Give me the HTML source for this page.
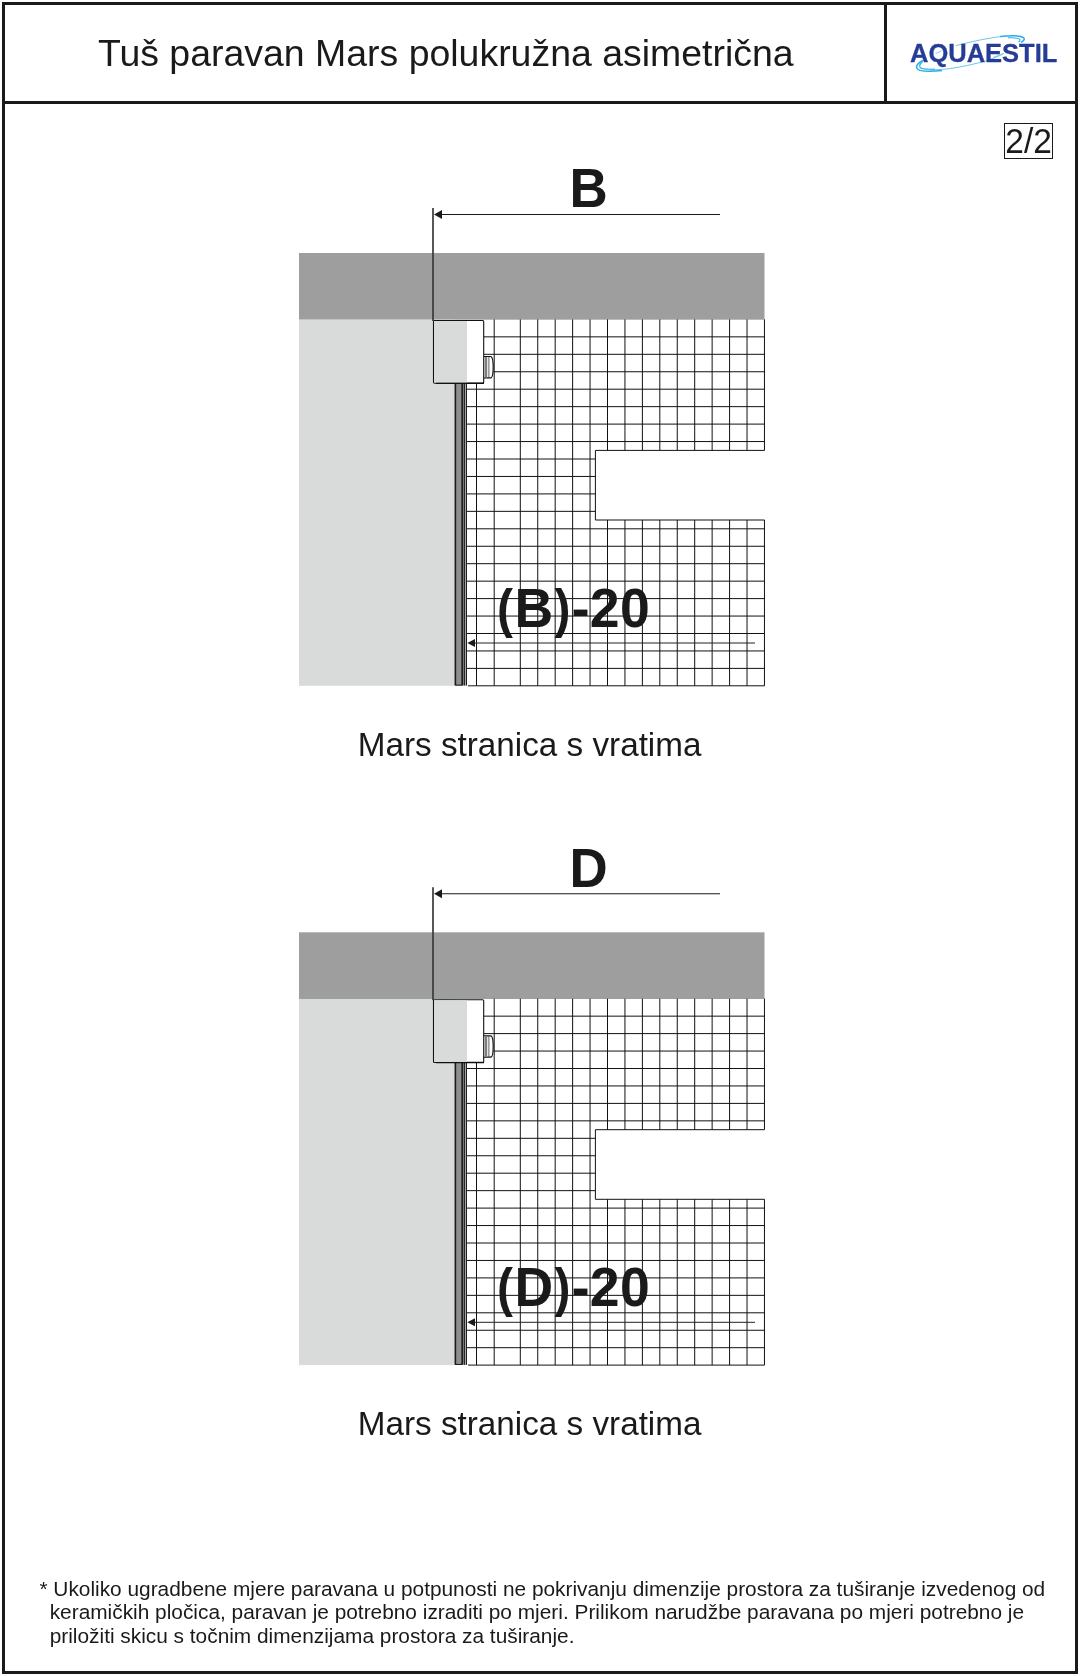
<!DOCTYPE html>
<html><head><meta charset="utf-8"><style>
html,body{margin:0;padding:0;background:#fff;}
svg{display:block;will-change:transform;font-family:"Liberation Sans",sans-serif;}
</style></head><body>
<svg width="1080" height="1676" viewBox="0 0 1080 1676">
<rect x="0" y="0" width="1080" height="1676" fill="#fff"/>
<rect x="3.5" y="3.5" width="1073" height="1669" fill="none" stroke="#1a1a1a" stroke-width="3"/>
<line x1="2" y1="102.5" x2="1078" y2="102.5" stroke="#1a1a1a" stroke-width="3"/>
<line x1="885.5" y1="2" x2="885.5" y2="104" stroke="#1a1a1a" stroke-width="3"/>
<text x="97.95" y="65.7" font-size="37.45" fill="#1a1a1a">Tuš paravan Mars polukružna asimetrična</text>
<g fill="none">
<path d="M930 69.8 C945 70 960 67.5 980 62.5 C990 60 998 56.5 1004 53.5" stroke="#5cc0ea" stroke-width="0.9"/>
<path d="M923.5 60.3 C916.5 63.5 913.8 68.2 920 70.4 C925 71.8 932 71.6 942 70.6" stroke="#26aee6" stroke-width="1.5"/>
<path d="M922.5 62 C918.8 64.6 918.6 67.6 922.5 68.6 C926 69.4 930 69.4 935 69" stroke="#26aee6" stroke-width="1.1"/>
<path d="M956 45.6 C972 41.5 990 37.5 1004 36.2" stroke="#5cc0ea" stroke-width="0.9"/>
<path d="M1000 36.6 C1010 35.6 1020 35.4 1023.5 37.6 C1025.2 39 1023.5 41.5 1021 42.3" stroke="#26aee6" stroke-width="1.5"/>
<path d="M1008 37.8 C1014 37.6 1019 38 1019.8 39.6 C1020.2 40.5 1019.5 41.5 1018.5 42" stroke="#26aee6" stroke-width="1.1"/>
<path d="M935.5 53.5 L941.5 51" stroke="#7fd0ee" stroke-width="1"/>
<path d="M993 57.5 L1003 53.5" stroke="#7fd0ee" stroke-width="1"/>
<text x="0" y="0" font-weight="bold" font-size="25.5" fill="#263d95" stroke="#263d95" stroke-width="0.3" stroke-linejoin="round" transform="translate(910.0 61.5)">AQUAESTIL</text>
</g>
<rect x="1004.5" y="123.5" width="48" height="35" fill="none" stroke="#1a1a1a" stroke-width="1"/>
<text x="0" y="0" font-size="33.5" fill="#1a1a1a" transform="translate(1005.3 152.6) scale(1 1.025)">2/2</text>
<g transform="translate(0,0)">
<text x="0" y="0" font-weight="bold" font-size="54" fill="#1a1a1a" transform="translate(569.5 206.7) scale(0.98 1.017)">B</text>
<rect x="299" y="253" width="465.5" height="66.7" fill="#9e9e9e"/>
<rect x="299" y="319.7" width="155.5" height="366.1" fill="#d9dbda"/>
<line x1="433" y1="208" x2="433" y2="321" stroke="#3a3a3a" stroke-width="1.7"/>
<line x1="440" y1="214.5" x2="720" y2="214.5" stroke="#1a1a1a" stroke-width="1.1"/>
<polygon points="434,214.5 442,210 442,219" fill="#1a1a1a"/>
<path d="M520.30 319.40L520.30 685.80 M537.74 319.40L537.74 685.80 M555.18 319.40L555.18 685.80 M572.62 319.40L572.62 685.80 M590.06 319.40L590.06 685.80 M607.50 319.40L607.50 450.40 M607.50 520.00L607.50 685.80 M624.94 319.40L624.94 450.40 M624.94 520.00L624.94 685.80 M642.38 319.40L642.38 450.40 M642.38 520.00L642.38 685.80 M659.82 319.40L659.82 450.40 M659.82 520.00L659.82 685.80 M677.26 319.40L677.26 450.40 M677.26 520.00L677.26 685.80 M694.70 319.40L694.70 450.40 M694.70 520.00L694.70 685.80 M712.14 319.40L712.14 450.40 M712.14 520.00L712.14 685.80 M729.58 319.40L729.58 450.40 M729.58 520.00L729.58 685.80 M747.02 319.40L747.02 450.40 M747.02 520.00L747.02 685.80 M764.46 319.40L764.46 450.40 M764.46 520.00L764.46 685.80 M494.20 319.40L494.20 685.80 M476.50 383.30L476.50 685.80 M484.00 336.85L764.50 336.85 M484.00 354.30L764.50 354.30 M493.50 371.75L764.50 371.75 M466.50 389.20L764.50 389.20 M466.50 406.65L764.50 406.65 M466.50 424.10L764.50 424.10 M466.50 441.55L764.50 441.55 M466.50 459.00L595.40 459.00 M466.50 476.45L595.40 476.45 M466.50 493.90L595.40 493.90 M466.50 511.35L595.40 511.35 M466.50 528.80L764.50 528.80 M466.50 546.25L764.50 546.25 M466.50 563.70L764.50 563.70 M466.50 581.15L764.50 581.15 M466.50 598.60L764.50 598.60 M466.50 616.05L764.50 616.05 M466.50 633.50L764.50 633.50 M466.50 650.95L764.50 650.95 M466.50 668.40L764.50 668.40 M468.00 685.80L764.50 685.80 M595.40 450.40L764.50 450.40 M595.40 520.00L764.50 520.00 M595.40 450.40L595.40 520.00" stroke="#111" stroke-width="1" fill="none"/>
<rect x="454.5" y="383" width="8.5" height="302.8" rx="0.8" fill="#1c1c1c"/>
<rect x="456.2" y="383" width="5.2" height="301.6" fill="#8f8f8f"/>
<rect x="463" y="383" width="1" height="302.6" fill="#7a7a7a"/>
<rect x="464" y="383" width="1" height="302.6" fill="#262626"/>
<rect x="465" y="383" width="1" height="302.6" fill="#a8a8a8"/>
<rect x="466" y="383" width="1" height="302.6" fill="#1e1e1e"/>
<rect x="433.5" y="320.5" width="50.2" height="62.6" rx="1" fill="#ffffff" stroke="#111" stroke-width="1.1"/>
<rect x="434" y="321" width="33" height="61.6" fill="#d9dbda"/>
<path d="M436 383.3 L484 383.3" stroke="#111" stroke-width="1.3"/>
<path d="M484 356.5 L491 356.5 Q493.2 357.5 493.2 367 Q493.2 377.3 491 377.8 L484 377.8" fill="#fff" stroke="#111" stroke-width="1.2"/>
<rect x="484.4" y="357" width="2.8" height="20.6" fill="#7d7d7d"/>
<line x1="488.9" y1="357" x2="488.9" y2="377.6" stroke="#333" stroke-width="0.8"/>
<line x1="474" y1="643" x2="755" y2="643" stroke="#222" stroke-width="1"/>
<polygon points="467.3,643 475,638.9 475,647" fill="#1a1a1a"/>
<text x="0" y="0" font-weight="bold" font-size="54.4" fill="#1a1a1a" text-anchor="middle" transform="translate(505.06 626.9) scale(0.88 0.985)">(</text>
<text x="0" y="0" font-weight="bold" font-size="54.4" fill="#1a1a1a" text-anchor="middle" transform="translate(533.75 626.9) scale(0.985 1.02)">B</text>
<text x="0" y="0" font-weight="bold" font-size="54.4" fill="#1a1a1a" text-anchor="middle" transform="translate(562.45 626.9) scale(0.88 0.985)">)</text>
<text x="571.51" y="626.9" font-weight="bold" font-size="54.4" fill="#1a1a1a">-</text>
<text x="0" y="0" font-weight="bold" font-size="54.4" fill="#1a1a1a" text-anchor="middle" transform="translate(604.75 626.9) scale(0.985 1.02)">2</text>
<text x="0" y="0" font-weight="bold" font-size="54.4" fill="#1a1a1a" text-anchor="middle" transform="translate(634.99 626.9) scale(0.985 1.02)">0</text>
<text x="357.8" y="755.6" font-size="33.26" fill="#1a1a1a">Mars stranica s vratima</text>
</g>
<g transform="translate(0,679.3)">
<text x="0" y="0" font-weight="bold" font-size="54" fill="#1a1a1a" transform="translate(569.4 207.4) scale(0.98 1.017)">D</text>
<rect x="299" y="253" width="465.5" height="66.7" fill="#9e9e9e"/>
<rect x="299" y="319.7" width="155.5" height="366.1" fill="#d9dbda"/>
<line x1="433" y1="208" x2="433" y2="321" stroke="#3a3a3a" stroke-width="1.7"/>
<line x1="440" y1="214.5" x2="720" y2="214.5" stroke="#1a1a1a" stroke-width="1.1"/>
<polygon points="434,214.5 442,210 442,219" fill="#1a1a1a"/>
<path d="M520.30 319.40L520.30 685.80 M537.74 319.40L537.74 685.80 M555.18 319.40L555.18 685.80 M572.62 319.40L572.62 685.80 M590.06 319.40L590.06 685.80 M607.50 319.40L607.50 450.40 M607.50 520.00L607.50 685.80 M624.94 319.40L624.94 450.40 M624.94 520.00L624.94 685.80 M642.38 319.40L642.38 450.40 M642.38 520.00L642.38 685.80 M659.82 319.40L659.82 450.40 M659.82 520.00L659.82 685.80 M677.26 319.40L677.26 450.40 M677.26 520.00L677.26 685.80 M694.70 319.40L694.70 450.40 M694.70 520.00L694.70 685.80 M712.14 319.40L712.14 450.40 M712.14 520.00L712.14 685.80 M729.58 319.40L729.58 450.40 M729.58 520.00L729.58 685.80 M747.02 319.40L747.02 450.40 M747.02 520.00L747.02 685.80 M764.46 319.40L764.46 450.40 M764.46 520.00L764.46 685.80 M494.20 319.40L494.20 685.80 M476.50 383.30L476.50 685.80 M484.00 336.85L764.50 336.85 M484.00 354.30L764.50 354.30 M493.50 371.75L764.50 371.75 M466.50 389.20L764.50 389.20 M466.50 406.65L764.50 406.65 M466.50 424.10L764.50 424.10 M466.50 441.55L764.50 441.55 M466.50 459.00L595.40 459.00 M466.50 476.45L595.40 476.45 M466.50 493.90L595.40 493.90 M466.50 511.35L595.40 511.35 M466.50 528.80L764.50 528.80 M466.50 546.25L764.50 546.25 M466.50 563.70L764.50 563.70 M466.50 581.15L764.50 581.15 M466.50 598.60L764.50 598.60 M466.50 616.05L764.50 616.05 M466.50 633.50L764.50 633.50 M466.50 650.95L764.50 650.95 M466.50 668.40L764.50 668.40 M468.00 685.80L764.50 685.80 M595.40 450.40L764.50 450.40 M595.40 520.00L764.50 520.00 M595.40 450.40L595.40 520.00" stroke="#111" stroke-width="1" fill="none"/>
<rect x="454.5" y="383" width="8.5" height="302.8" rx="0.8" fill="#1c1c1c"/>
<rect x="456.2" y="383" width="5.2" height="301.6" fill="#8f8f8f"/>
<rect x="463" y="383" width="1" height="302.6" fill="#7a7a7a"/>
<rect x="464" y="383" width="1" height="302.6" fill="#262626"/>
<rect x="465" y="383" width="1" height="302.6" fill="#a8a8a8"/>
<rect x="466" y="383" width="1" height="302.6" fill="#1e1e1e"/>
<rect x="433.5" y="320.5" width="50.2" height="62.6" rx="1" fill="#ffffff" stroke="#111" stroke-width="1.1"/>
<rect x="434" y="321" width="33" height="61.6" fill="#d9dbda"/>
<path d="M436 383.3 L484 383.3" stroke="#111" stroke-width="1.3"/>
<path d="M484 356.5 L491 356.5 Q493.2 357.5 493.2 367 Q493.2 377.3 491 377.8 L484 377.8" fill="#fff" stroke="#111" stroke-width="1.2"/>
<rect x="484.4" y="357" width="2.8" height="20.6" fill="#7d7d7d"/>
<line x1="488.9" y1="357" x2="488.9" y2="377.6" stroke="#333" stroke-width="0.8"/>
<line x1="474" y1="643" x2="755" y2="643" stroke="#222" stroke-width="1"/>
<polygon points="467.3,643 475,638.9 475,647" fill="#1a1a1a"/>
<text x="0" y="0" font-weight="bold" font-size="54.4" fill="#1a1a1a" text-anchor="middle" transform="translate(505.06 626.9) scale(0.88 0.985)">(</text>
<text x="0" y="0" font-weight="bold" font-size="54.4" fill="#1a1a1a" text-anchor="middle" transform="translate(533.75 626.9) scale(0.985 1.02)">D</text>
<text x="0" y="0" font-weight="bold" font-size="54.4" fill="#1a1a1a" text-anchor="middle" transform="translate(562.45 626.9) scale(0.88 0.985)">)</text>
<text x="571.51" y="626.9" font-weight="bold" font-size="54.4" fill="#1a1a1a">-</text>
<text x="0" y="0" font-weight="bold" font-size="54.4" fill="#1a1a1a" text-anchor="middle" transform="translate(604.75 626.9) scale(0.985 1.02)">2</text>
<text x="0" y="0" font-weight="bold" font-size="54.4" fill="#1a1a1a" text-anchor="middle" transform="translate(634.99 626.9) scale(0.985 1.02)">0</text>
<text x="357.8" y="755.6" font-size="33.26" fill="#1a1a1a">Mars stranica s vratima</text>
</g>
<text font-size="20.85" fill="#1a1a1a">
<tspan x="39.46" y="1595.8">* Ukoliko ugradbene mjere paravana u potpunosti ne pokrivanju dimenzije prostora za tuširanje izvedenog od</tspan>
<tspan x="49.7" y="1618.8">keramičkih pločica, paravan je potrebno izraditi po mjeri. Prilikom narudžbe paravana po mjeri potrebno je</tspan>
<tspan x="49.7" y="1642.7">priložiti skicu s točnim dimenzijama prostora za tuširanje.</tspan>
</text>
</svg>
</body></html>
